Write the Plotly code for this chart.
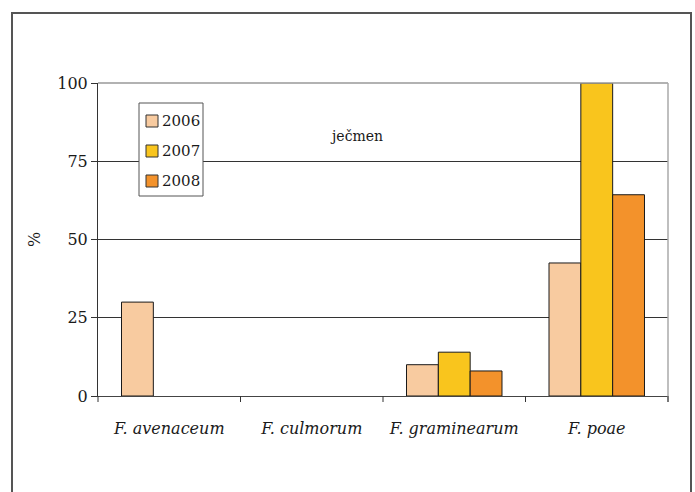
import plotly.graph_objects as go

species = ["F. avenaceum", "F. culmorum", "F. graminearum", "F. poae"]
years = ["2006", "2007", "2008"]
values_2006 = [30, 0, 10, 42.5]
values_2007 = [0, 0, 14, 100]
values_2008 = [0, 0, 8, 64.3]
colors = ["#F8CBA0", "#F9C51D", "#F3922B"]
y_ticks = [0, 25, 50, 75, 100]

SERIF = "DejaVu Serif"
labels = ["<i>" + s + "</i>" for s in species]
series = [values_2006, values_2007, values_2008]

fig = go.Figure()
for year, vals, col in zip(years, series, colors):
    fig.add_trace(go.Bar(
        x=labels, y=vals, name=year,
        marker=dict(color=col,
                    line=dict(color="#1a1a1a", width=[1 if v else 0 for v in vals])),
    ))

W, H = 695, 492
L, R, T, B = 98, 27, 83, 96
pw, ph = W - L - R, H - T - B

def px(x):
    return (x - L) / pw

def py(y):
    return (H - B - y) / ph

shapes = [
    # outer frame
    dict(type="rect", xref="paper", yref="paper",
         x0=px(12), x1=px(691), y0=py(520), y1=py(13),
         line=dict(color="#555", width=2), layer="below"),
    # top and right plot border
    dict(type="line", xref="paper", yref="paper",
         x0=0, x1=1, y0=1, y1=1, line=dict(color="#999", width=1.5)),
    dict(type="line", xref="paper", yref="paper",
         x0=1, x1=1, y0=py(402), y1=1, line=dict(color="#aaa", width=1.5)),
    # legend box
    dict(type="rect", xref="paper", yref="paper",
         x0=px(139), x1=px(203), y0=py(196), y1=py(103),
         line=dict(color="#555", width=1), fillcolor="white"),
]
annotations = [dict(
    text="ječmen", x=px(356), y=py(126), xref="paper", yref="paper",
    showarrow=False, font=dict(size=14, family=SERIF),
)]

# legend entries: swatch plus year label
for i, (year, col) in enumerate(zip(years, colors)):
    yc = 121 + 30 * i
    shapes.append(dict(type="rect", xref="paper", yref="paper",
                       x0=px(146), x1=px(158), y0=py(yc + 6), y1=py(yc - 6),
                       fillcolor=col, line=dict(color="#333", width=1)))
    annotations.append(dict(text=year, x=px(160), y=py(yc), xref="paper", yref="paper",
                            xanchor="left", yanchor="middle", showarrow=False,
                            font=dict(size=15, family=SERIF)))

# category separator ticks along the bottom axis
for i in range(len(species) + 1):
    shapes.append(dict(type="line", xref="paper", yref="paper",
                       x0=i / len(species), x1=i / len(species), y0=0, y1=py(402),
                       line=dict(color="#333", width=1)))

fig.update_layout(
    width=W, height=H,
    margin=dict(l=L, r=R, t=T, b=B),
    paper_bgcolor="white", plot_bgcolor="white",
    barmode="group", bargap=0.33, bargroupgap=0,
    font=dict(family=SERIF, size=16, color="#1a1a1a"),
    showlegend=False,
    xaxis=dict(
        showgrid=False, showline=True, linecolor="#444", linewidth=1,
        ticks="", tickfont=dict(size=16, family=SERIF), ticklabelstandoff=18,
    ),
    yaxis=dict(
        range=[0, 100], tickvals=y_ticks, showgrid=True, gridcolor="#333", gridwidth=1,
        showline=True, linecolor="#333", linewidth=1,
        ticks="outside", ticklen=6, tickcolor="#333",
        tickfont=dict(size=16, family=SERIF),
        title=dict(text="%", standoff=12, font=dict(size=16, family=SERIF)),
        zeroline=False,
    ),
    annotations=annotations,
    shapes=shapes,
)

fig.write_html("out.html")
